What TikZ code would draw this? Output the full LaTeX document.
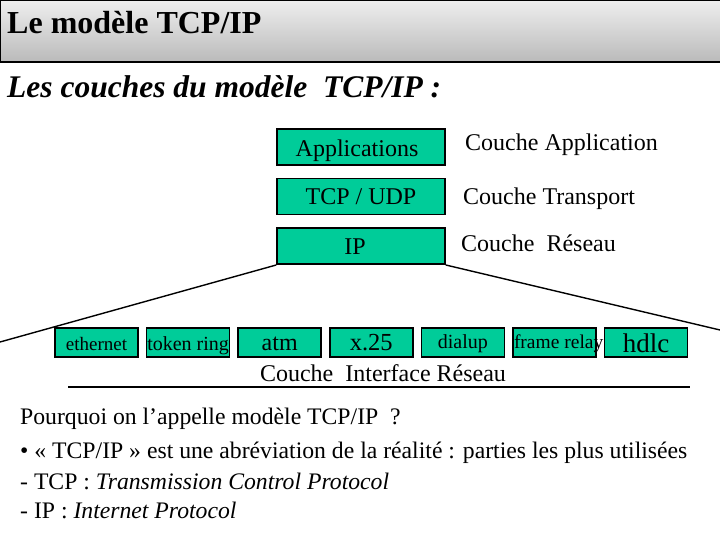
\documentclass[tikz,border=0pt]{standalone}
\usepackage{fontspec}
\setmainfont{Liberation Serif}
\usetikzlibrary{positioning}
\definecolor{layergreen}{RGB}{0,204,153}
\definecolor{headtop}{RGB}{238,238,238}
\definecolor{headbot}{RGB}{186,186,186}

\begin{document}
\begin{tikzpicture}[
  x=1pt, y=-1pt,
  layer/.style={draw=black, line width=1.6pt, fill=layergreen, minimum width=168pt, minimum height=36pt, inner sep=0pt, font=\fontsize{24}{26}\selectfont},
  link/.style={draw=black, line width=1.6pt, fill=layergreen, minimum width=83pt, minimum height=29pt, inner sep=0pt, text depth=0pt, text height=15pt},
  couche/.style={anchor=west, inner sep=0pt, font=\fontsize{24}{26}\selectfont},
  body/.style={anchor=west, inner sep=0pt, font=\fontsize{23.7}{26}\selectfont},
  edge/.style={line width=1.4pt}
]
\useasboundingbox (0,0) rectangle (720,540);
\fill[white] (0,0) rectangle (720,540);

% title bar
\shade[top color=headtop, bottom color=headbot, draw=black, line width=1.4pt] (0.7,0.7) rectangle (725,62);
\node[anchor=west, inner sep=0pt, font=\fontsize{32}{34}\selectfont\bfseries] (title) at (7,23) {Le modèle TCP/IP};
\node[anchor=west, inner sep=0pt, font=\fontsize{31.5}{34}\selectfont\bfseries\itshape] (subtitle) at (7,87) {Les couches du modèle\ \ TCP/IP :};

% upper layers
\node[layer, text height=20pt, text depth=0pt] (apps) at (361,147) {\hspace*{-8pt}Applications};
\node[layer, below=12pt of apps] (tcp) {TCP / UDP};
\node[layer, below=12pt of tcp] (ip) {\hspace*{-12pt}IP};

\node[couche] (lapp) at (465,145) {Couche Application};
\node[couche] (ltrans) at (463,199) {Couche Transport};
\node[couche] (lres) at (461,243) {Couche\ \ Réseau};

% network interface layer
\node[link, font=\fontsize{19}{20}\selectfont] (ethernet) at (96.5,342.5) {ethernet};
\node[link, right=7pt of ethernet, font=\fontsize{20}{22}\selectfont] (token) {token ring};
\node[link, right=7pt of token, font=\fontsize{24}{26}\selectfont, text height=15pt] (atm) {atm};
\node[link, right=7pt of atm, font=\fontsize{24.5}{26}\selectfont, text height=15pt] (x25) {x.25};
\node[link, right=7pt of x25, font=\fontsize{20}{22}\selectfont, text height=11pt] (dialup) {dialup};
\node[link, right=7pt of dialup, font=\fontsize{19.5}{22}\selectfont, text height=11pt] (frame) {\makebox[83pt][l]{\hspace*{1pt}frame relay}};
\node[link, right=7pt of frame, font=\fontsize{27}{28}\selectfont, text height=20pt] (hdlc) {hdlc};

\node[inner sep=0pt, font=\fontsize{24}{26}\selectfont] (lifr) at (383,373) {Couche\ \ Interface Réseau};

\coordinate (leftend) at (0,342);
\coordinate (rightend) at (720,330);
\coordinate (ruleleft) at (68,387);
\coordinate (ruleright) at (690,387);
\draw[edge] (ip.south west) -- (leftend);
\draw[edge] (ip.south east) -- (rightend);
\draw[edge] (ruleleft) -- (ruleright);

% explanation
\node[body] (why) at (20,419) {Pourquoi on l’appelle modèle TCP/IP\ \ ?};
\node[body] (abbr) at (20,453) {• « TCP/IP » est une abréviation de la réalité : parties les plus utilisées};
\node[body] (deftcp) at (20,481) {- TCP : \textit{Transmission Control Protocol}};
\node[body] (defip) at (20,510) {- IP : \textit{Internet Protocol}};
\end{tikzpicture}
\end{document}
